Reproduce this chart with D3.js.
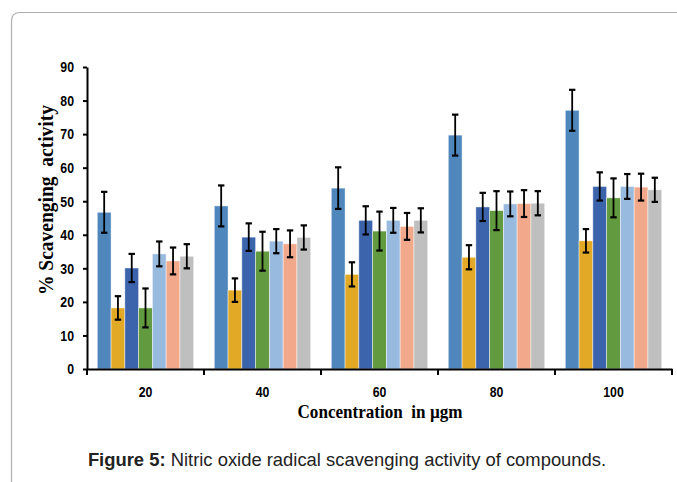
<!DOCTYPE html>
<html><head><meta charset="utf-8">
<script src="https://cdn.jsdelivr.net/npm/d3@7"></script>
<style>body{margin:0;background:#fff;} svg{display:block;}</style>
</head><body>
<svg id="c" width="677" height="482"></svg>
<script>
const categories = ["20","40","60","80","100"];
const seriesNames = ["S1","S2","S3","S4","S5","S6","S7"];
const colors = ["#4f87bd","#e1a925","#3c64ad","#629a3f","#99badf","#f2a98b","#bfbfbf"];
const s1 = [46.7,48.6,53.9,69.7,77.1];
const s2 = [18.2,23.5,28.2,33.3,38.2];
const s3 = [30.1,39.3,44.3,48.3,54.4];
const s4 = [18.2,35.1,41.1,47.2,51.0];
const s5 = [34.3,38.1,44.3,49.2,54.4];
const s6 = [32.2,37.3,42.5,49.3,54.2];
const s7 = [33.6,39.2,44.3,49.4,53.4];
const e1 = [6.1,6.1,6.2,6.1,6.1];
const e2 = [3.5,3.5,3.6,3.6,3.5];
const e3 = [4.2,4.1,4.2,4.2,4.2];
const e4 = [5.8,5.8,5.8,5.8,5.8];
const e5 = [3.7,3.6,3.7,3.7,3.7];
const e6 = [4.0,4.0,4.0,4.0,4.0];
const e7 = [3.6,3.6,3.6,3.6,3.6];
const yTicks = [0,10,20,30,40,50,60,70,80,90];

const values = [s1,s2,s3,s4,s5,s6,s7];
const errors = [e1,e2,e3,e4,e5,e6,e7];

const svg = d3.select("#c");
// frame
svg.append("path")
  .attr("d","M11.5,482 L11.5,21 Q11.5,12.5 20,12.5 L677,12.5")
  .attr("fill","none").attr("stroke","#b0b0b0").attr("stroke-width",1.2);

const pLeft=87, pRight=672, pTop=67, pBottom=369;
const x0 = d3.scaleBand().domain(categories).range([pLeft,pRight]).padding(0);
const x1 = d3.scaleBand().domain(seriesNames).range([10.3, x0.bandwidth()-10.3]).padding(0);
const y = d3.scaleLinear().domain([0,90]).range([pBottom,pTop]);

const data = [];
categories.forEach((c,ci)=>seriesNames.forEach((s,si)=>data.push({c,s,si,v:values[si][ci],e:errors[si][ci]})));

const g = svg.append("g");
g.selectAll("rect.bar").data(data).enter().append("rect")
  .attr("class","bar")
  .attr("x",d=>x0(d.c)+x1(d.s))
  .attr("y",d=>y(d.v))
  .attr("width",x1.bandwidth())
  .attr("height",d=>y(0)-y(d.v))
  .attr("fill",d=>colors[d.si])
  .attr("stroke","#ffffff").attr("stroke-opacity",0.55).attr("stroke-width",0.8);

const eb = g.selectAll("g.eb").data(data).enter().append("g").attr("class","eb")
  .attr("stroke","#000").attr("stroke-width",1.8);
eb.append("line")
  .attr("x1",d=>x0(d.c)+x1(d.s)+x1.bandwidth()/2)
  .attr("x2",d=>x0(d.c)+x1(d.s)+x1.bandwidth()/2)
  .attr("y1",d=>y(d.v+d.e)).attr("y2",d=>y(d.v-d.e));
[1,-1].forEach(sg=>{
  eb.append("line")
    .attr("x1",d=>x0(d.c)+x1(d.s)+x1.bandwidth()/2-3.2)
    .attr("x2",d=>x0(d.c)+x1(d.s)+x1.bandwidth()/2+3.2)
    .attr("y1",d=>y(d.v+sg*d.e)).attr("y2",d=>y(d.v+sg*d.e))
    .attr("stroke-width",2.2);
});

const tickFont = "'Liberation Sans','Arial',sans-serif";
// y axis
const ya = svg.append("g").attr("transform",`translate(${pLeft},0)`)
  .call(d3.axisLeft(y).tickValues(yTicks).tickSize(4).tickPadding(7).tickSizeOuter(0));
ya.select(".domain").attr("stroke","#000").attr("stroke-width",2);
ya.selectAll(".tick line").attr("stroke","#000").attr("stroke-width",2);
ya.selectAll(".tick text").attr("font-family",tickFont).attr("font-weight","bold")
  .attr("font-size",15).attr("fill","#000")
  .attr("x",null).attr("transform","translate(-13,0) scale(0.82,1)");

// x axis
const xa = svg.append("g").attr("transform",`translate(0,${pBottom})`)
  .call(d3.axisBottom(x0).tickSize(0).tickPadding(17.5).tickSizeOuter(0));
xa.select(".domain").attr("stroke","#000").attr("stroke-width",2);
xa.selectAll(".tick text").attr("font-family",tickFont).attr("font-weight","bold")
  .attr("font-size",15).attr("fill","#000").attr("transform","scale(0.82,1)");
// boundary ticks
const bounds = categories.map(c=>x0(c)).concat([pRight]);
svg.append("g").selectAll("line").data(bounds).enter().append("line")
  .attr("x1",d=>d).attr("x2",d=>d).attr("y1",pBottom).attr("y2",pBottom+6)
  .attr("stroke","#000").attr("stroke-width",2);

// axis titles
const serif = "'Liberation Serif','Times New Roman',serif";
svg.append("text").attr("x",380).attr("y",418).attr("text-anchor","middle")
  .attr("font-family",serif).attr("font-weight","bold").attr("font-size",19)
  .attr("textLength",165).attr("lengthAdjust","spacingAndGlyphs")
  .attr("fill","#000").style("white-space","pre").text("Concentration  in µgm");
svg.append("text").attr("transform","translate(53,200) rotate(-90)").attr("text-anchor","middle")
  .attr("font-family",serif).attr("font-weight","bold").attr("font-size",20)
  .attr("textLength",190).attr("lengthAdjust","spacingAndGlyphs")
  .attr("fill","#000").style("white-space","pre").text("% Scavenging  activity");

// caption
const cap = svg.append("text").attr("x",347).attr("y",466).attr("text-anchor","middle")
  .attr("font-family","'Liberation Sans',Arial,sans-serif").attr("font-size",18.4).attr("fill","#222");
cap.append("tspan").attr("font-weight","bold").text("Figure 5:");
cap.append("tspan").text(" Nitric oxide radical scavenging activity of compounds.");
</script>
</body></html>
